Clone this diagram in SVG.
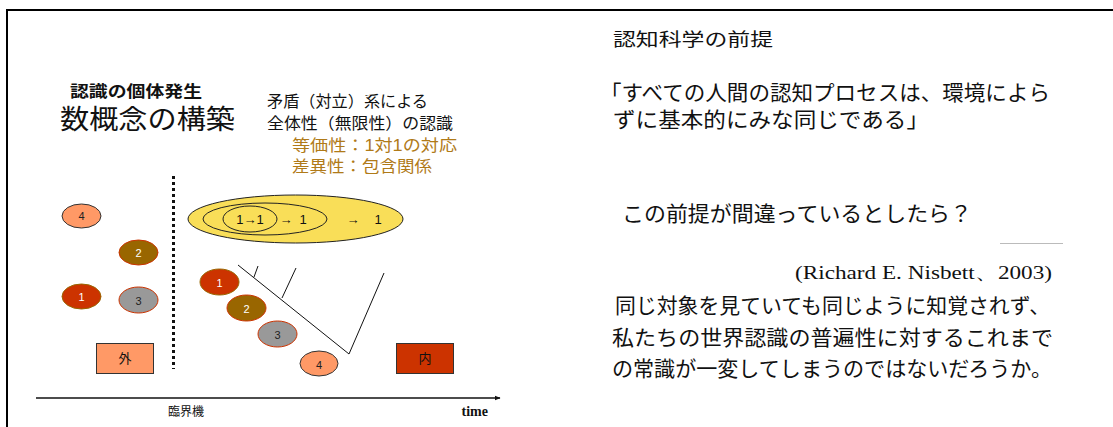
<svg xmlns="http://www.w3.org/2000/svg" width="1113" height="427" viewBox="0 0 1113 427">
<style>
.jp{font-family:"Liberation Sans","Noto Sans CJK JP",sans-serif;fill:#111}
.gold{fill:#B07A18}
.num{font-family:"Liberation Sans","Noto Sans CJK JP",sans-serif;font-size:11px;text-anchor:middle;dominant-baseline:central}
.ln{stroke:#111;stroke-width:1;fill:none}
</style>
<defs>
<marker id="arr" viewBox="0 0 10 10" refX="9" refY="5" markerWidth="6" markerHeight="6" orient="auto" markerUnits="userSpaceOnUse">
<path d="M0,1 L10,5 L0,9 z" fill="#111"/>
</marker>
</defs>
<rect width="1113" height="427" fill="#fff"/>
<!-- frame -->
<path d="M7,427 V10 H1113" fill="none" stroke="#000" stroke-width="2"/>

<!-- left title texts -->
<g id="titles">
<text class="jp" x="70" y="97" font-size="16" font-weight="bold" textLength="132" lengthAdjust="spacingAndGlyphs">認識の個体発生</text>
<text class="jp" x="60" y="129" font-size="27" textLength="175" lengthAdjust="spacingAndGlyphs">数概念の構築</text>
<text class="jp" x="267" y="107" font-size="16" textLength="161" lengthAdjust="spacingAndGlyphs">矛盾（対立）系による</text>
<text class="jp" x="267" y="129" font-size="16" textLength="186" lengthAdjust="spacingAndGlyphs">全体性（無限性）の認識</text>
<text class="jp gold" x="292" y="151" font-size="16" textLength="165" lengthAdjust="spacingAndGlyphs">等価性：1対1の対応</text>
<text class="jp gold" x="292" y="172" font-size="16" textLength="140" lengthAdjust="spacingAndGlyphs">差異性：包含関係</text>
</g>

<!-- divider -->
<line x1="173.5" y1="176" x2="173.5" y2="369" stroke="#111" stroke-width="3" stroke-dasharray="3,3"/>

<!-- left scattered nodes -->
<g id="outer4"><ellipse cx="81.5" cy="216" rx="19.5" ry="12" fill="#FF9966" stroke="#333" stroke-width="1"/><text class="num" x="81.5" y="216" fill="#222">4</text></g>
<g id="outer2"><ellipse cx="138.5" cy="252.5" rx="19.5" ry="12.5" fill="#996600" stroke="#CC3300" stroke-width="1"/><text class="num" x="138.5" y="253" fill="#fff">2</text></g>
<g id="outer1"><ellipse cx="81.5" cy="296.5" rx="19.5" ry="12.5" fill="#CC3300" stroke="#996600" stroke-width="1"/><text class="num" x="81.5" y="297" fill="#fff">1</text></g>
<g id="outer3"><ellipse cx="138.5" cy="300" rx="19.5" ry="13" fill="#999999" stroke="#CC3300" stroke-width="1"/><text class="num" x="138.5" y="301" fill="#222">3</text></g>
<g id="soto"><rect x="96.5" y="343.5" width="57" height="30" fill="#FF9966" stroke="#333" stroke-width="1"/><text class="jp" x="125" y="363" font-size="13" text-anchor="middle">外</text></g>

<!-- nested ellipses -->
<g id="sets">
<ellipse cx="295.5" cy="219" rx="107.5" ry="24" fill="#F9DE58" stroke="#222" stroke-width="1"/>
<ellipse cx="265" cy="219" rx="62" ry="16" fill="none" stroke="#222" stroke-width="1"/>
<ellipse cx="250" cy="219" rx="27" ry="13" fill="none" stroke="#222" stroke-width="1"/>
<text class="jp" x="250" y="223.5" font-size="13" text-anchor="middle" fill="#222">1→1</text>
<text class="jp" x="286" y="223.5" font-size="13" text-anchor="middle" fill="#222">→</text>
<text class="jp" x="303" y="223.5" font-size="13" text-anchor="middle" fill="#222">1</text>
<text class="jp" x="353" y="223.5" font-size="13" text-anchor="middle" fill="#222">→</text>
<text class="jp" x="378" y="223.5" font-size="13" text-anchor="middle" fill="#222">1</text>
</g>

<!-- tree connectors -->
<g id="connectors">
<path class="ln" d="M238,265 L349,354 L384,273"/>
<path class="ln" d="M254,277 L258,266"/>
<path class="ln" d="M282,298 L296,268"/>
<line x1="36" y1="398" x2="500" y2="398" stroke="#111" stroke-width="1.5" marker-end="url(#arr)"/>
</g>

<!-- right ordered nodes -->
<g id="inner1"><ellipse cx="219.5" cy="282" rx="19.5" ry="13" fill="#CC3300" stroke="#996600" stroke-width="1"/><text class="num" x="219.5" y="283" fill="#fff">1</text></g>
<g id="inner2"><ellipse cx="246.5" cy="308" rx="19.5" ry="13" fill="#996600" stroke="#CC3300" stroke-width="1"/><text class="num" x="246.5" y="309" fill="#fff">2</text></g>
<g id="inner3"><ellipse cx="277.5" cy="334" rx="19.5" ry="13" fill="#999999" stroke="#CC3300" stroke-width="1"/><text class="num" x="277.5" y="335" fill="#222">3</text></g>
<g id="inner4"><ellipse cx="319" cy="363.5" rx="19" ry="12.5" fill="#FF9966" stroke="#333" stroke-width="1"/><text class="num" x="319" y="365" fill="#222">4</text></g>
<g id="uchi"><rect x="396.5" y="343.5" width="57" height="30" fill="#CC3300" stroke="#333" stroke-width="1"/><text class="jp" x="425" y="363" font-size="13" text-anchor="middle" fill="#fff">内</text></g>

<!-- axis labels -->
<text class="jp" x="186" y="416" font-size="12" text-anchor="middle" fill="#333">臨界機</text>
<text x="488" y="416" font-family="Liberation Serif,serif" font-size="14" font-weight="bold" text-anchor="end" fill="#111">time</text>

<!-- right text block -->
<g id="premise">
<text class="jp" x="613" y="46" font-size="18" textLength="160" lengthAdjust="spacingAndGlyphs">認知科学の前提</text>
<text class="jp" x="600" y="100" font-size="21" textLength="450" lengthAdjust="spacingAndGlyphs">「すべての人間の認知プロセスは、環境によら</text>
<text class="jp" x="613" y="127" font-size="21" textLength="316" lengthAdjust="spacingAndGlyphs">ずに基本的にみな同じである」</text>
<text class="jp" x="622" y="221" font-size="21" textLength="350" lengthAdjust="spacingAndGlyphs">この前提が間違っているとしたら？</text>
<line x1="1000" y1="243.5" x2="1063" y2="243.5" stroke="#bbb" stroke-width="1"/>
<text x="795" y="279" font-family="Liberation Serif,serif" font-size="18" fill="#111" textLength="257" lengthAdjust="spacingAndGlyphs">(Richard E. Nisbett、2003)</text>
<text class="jp" x="615" y="313" font-size="21" textLength="435" lengthAdjust="spacingAndGlyphs">同じ対象を見ていても同じように知覚されず、</text>
<text class="jp" x="612" y="345" font-size="21" textLength="441" lengthAdjust="spacingAndGlyphs">私たちの世界認識の普遍性に対するこれまで</text>
<text class="jp" x="612" y="376" font-size="21" textLength="440" lengthAdjust="spacingAndGlyphs">の常識が一変してしまうのではないだろうか。</text>
</g>
</svg>
